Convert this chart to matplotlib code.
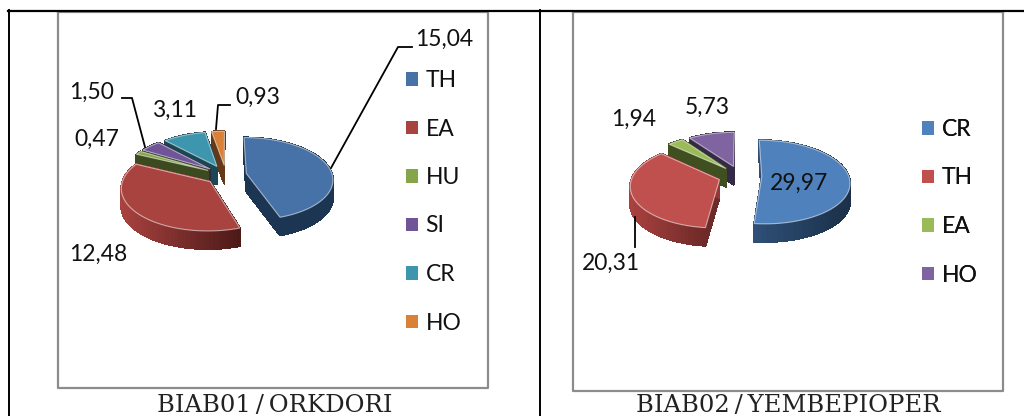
import numpy as np
import matplotlib
matplotlib.use("Agg")
import matplotlib.pyplot as plt
from matplotlib.collections import PolyCollection
from matplotlib.colors import to_rgb
from matplotlib.patches import Patch

plt.rcParams["font.family"] = ["Lato", "DejaVu Sans"]

names1 = ["TH", "EA", "HU", "SI", "CR", "HO"]
values1 = [15.04, 12.48, 0.47, 1.50, 3.11, 0.93]
top1 = ["#4672a8", "#a84340", "#86a44a", "#6f5597", "#3d96ae", "#da8137"]
side1 = [("#1c3553", "#1c3553"), ("#a8423f", "#4d1a18"), ("#3c4a1f", "#3c4a1f"),
         ("#322645", "#322645"), ("#1b4653", "#1b4653"), ("#63391a", "#63391a")]
caption1 = "BIAB01\u2009/\u2009ORKDORI"

names2 = ["CR", "TH", "EA", "HO"]
values2 = [29.97, 20.31, 1.94, 5.73]
top2 = ["#4f81bd", "#c0504d", "#9bbb59", "#8064a2"]
side2 = [("#2f5078", "#1b3049"), ("#a9413f", "#6e2a28"), ("#3f4f20", "#3f4f20"),
         ("#352a45", "#352a45")]
caption2 = "BIAB02\u2009/\u2009YEMBEPIOPER"

FONT = 16.5
DEPTH = 18
SQUASH_K = 0.13


def project(u, v, cx, cy, a, b):
    # simple perspective: the far side of the disc comes out a bit smaller
    w = 1 + SQUASH_K * v
    return cx + a * u / w, cy - b * v / w


def draw_pie(ax, values, tops, sides, cx, cy, a, b, explode):
    angles = 90 - np.cumsum([0] + list(values)) / sum(values) * 360
    # back slices first so that the front ones overlap them
    for i in reversed(range(len(values))):
        t = np.radians(np.linspace(angles[i], angles[i + 1], 60))
        mid = np.radians((angles[i] + angles[i + 1]) / 2)
        ox, oy = explode * np.cos(mid), explode * np.sin(mid)
        px, py = project(ox + np.cos(t), oy + np.sin(t), cx, cy, a, b)
        ax0, ay0 = project(ox, oy, cx, cy, a, b)
        xs = np.r_[ax0, px, ax0]
        ys = np.r_[ay0, py, ay0]

        # extruded rim, shaded left to right along the arc
        c0, c1 = np.array(to_rgb(sides[i][0])), np.array(to_rgb(sides[i][1]))
        span = max(px.max() - px.min(), 1)
        quads, colors = [], []
        for j in range(len(xs) - 1):
            quads.append([(xs[j], ys[j]), (xs[j + 1], ys[j + 1]),
                          (xs[j + 1], ys[j + 1] + DEPTH), (xs[j], ys[j] + DEPTH)])
            f = np.clip((xs[j] - px.min()) / span, 0, 1)
            colors.append(c0 + (c1 - c0) * f)
        ax.add_collection(PolyCollection(quads, facecolors=colors, edgecolors=colors,
                                         linewidths=0.8, antialiaseds=False))
        ax.fill(xs, ys, color=tops[i], ec=(1, 1, 1, 0.55), lw=0.8)


def label(ax, value, x, y):
    ax.text(x, y, f"{value:.2f}".replace(".", ","), fontsize=FONT, color="#111111",
            ha="left", va="center", zorder=5)


def legend(ax, names, tops, x, y):
    handles = [Patch(facecolor=c, edgecolor="none", label=n) for n, c in zip(names, tops)]
    leg = ax.legend(handles=handles, frameon=False, fontsize=FONT, loc="upper left",
                    bbox_to_anchor=(x, y), bbox_transform=ax.transData,
                    handlelength=0.52, handleheight=0.52, handletextpad=0.33,
                    labelspacing=1.2, borderpad=0, borderaxespad=0,
                    labelcolor="#111111")
    ax.add_artist(leg)


fig = plt.figure(figsize=(10.24, 4.16), dpi=100)
ax = fig.add_axes([0, 0, 1, 1])
ax.set_xlim(0, 1024)
ax.set_ylim(416, 0)
ax.axis("off")

# chart frames
ax.plot([58, 488, 488, 58, 58], [12, 12, 388, 388, 12], color="#8c8c8c", lw=1.6)
ax.plot([573, 1003, 1003, 573, 573], [12, 12, 391, 391, 12], color="#8c8c8c", lw=1.6)

# table rules
ax.plot([8, 1024], [10.5, 10.5], color="black", lw=1.6)
for x in [8.5, 540]:
    ax.plot([x, x], [10, 416], color="black", lw=1.4)

draw_pie(ax, values1, top1, side1, 226, 175, 86, 41, 0.24)
draw_pie(ax, values2, top2, side2, 740, 176, 87, 41, 0.25)

# leader lines
ax.plot([331, 398, 412], [168, 47, 47], color="black", lw=1.3)
ax.plot([122, 132, 145], [98, 98, 147], color="black", lw=1.3)
ax.plot([230, 218, 216], [105, 105, 129], color="black", lw=1.3)
ax.plot([635, 635], [217, 247], color="black", lw=1.3)

label(ax, values1[0], 415, 39)
label(ax, values1[1], 69, 254)
label(ax, values1[2], 74, 139)
label(ax, values1[3], 69, 92)
label(ax, values1[4], 152, 110)
label(ax, values1[5], 235, 97)

label(ax, values2[0], 770, 183)
label(ax, values2[1], 582, 263)
label(ax, values2[2], 611, 119)
label(ax, values2[3], 685, 107)

legend(ax, names1, top1, 406, 70)
legend(ax, names2, top2, 922, 119)

ax.text(275, 412.5, caption1, family=["DejaVu Serif"], fontsize=17.5,
        color="#222222", ha="center", va="baseline")
ax.text(788, 412.5, caption2, family=["DejaVu Serif"], fontsize=17.5,
        color="#222222", ha="center", va="baseline")

fig.savefig("out.png", dpi=100)
